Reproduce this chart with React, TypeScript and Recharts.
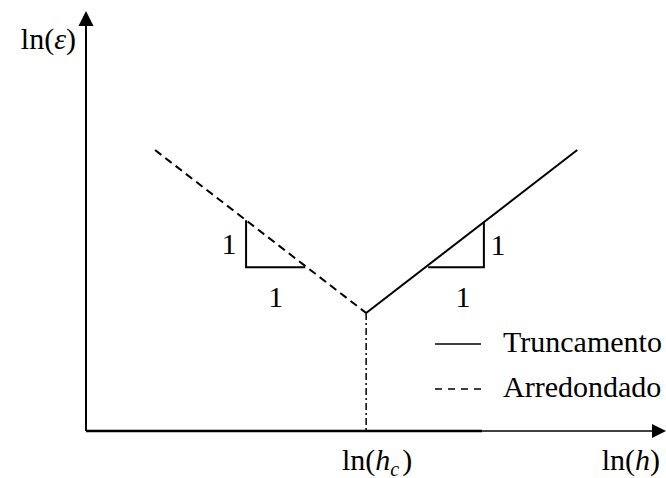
import React from 'react';
import {
  ComposedChart,
  Line,
  Scatter,
  XAxis,
  YAxis,
  Legend,
  ReferenceDot
} from 'recharts';

// schematic units: origin at the axes corner, both axes run 0..10
const truncamento = [ { x: 4.83, y: 2.81 }, { x: 8.47, y: 6.69 } ];
const arredondado = [ { x: 1.19, y: 6.69 }, { x: 4.83, y: 2.81 } ];
const hcMarker = [ { x: 4.83, y: 2.81 }, { x: 4.83, y: 0 } ];
const slopeLeft = [ { x: 2.76, y: 5.02 }, { x: 2.76, y: 3.9 }, { x: 3.78, y: 3.9 } ];
const slopeRight = [ { x: 5.9, y: 3.9 }, { x: 6.86, y: 3.9 }, { x: 6.86, y: 4.98 } ];
const yAxisLine = [ { x: 0, y: 0 }, { x: 0, y: 9.67 } ];
const xAxisLine = [ { x: 0, y: 0 }, { x: 6.83, y: 0 } ];
const xAxisTail = [ { x: 6.83, y: 0 }, { x: 9.78, y: 0 } ];
const yArrowTip = [ { x: 0, y: 10 } ];
const xArrowTip = [ { x: 10, y: 0 } ];

const legendOrder = ['Truncamento', 'Arredondado'];
const legendDash: Record<string, string | undefined> = { Arredondado: '7 6' };

const serif = '"Liberation Serif", "Times New Roman", Times, serif';
const textStyle: React.CSSProperties = { fontFamily: serif, fontSize: 30, fill: '#000' };

// text placed relative to a reference dot
const note = (dx: number, dy: number, anchor: 'start' | 'middle' | 'end', content: React.ReactNode) =>
  (props: any) => (
    <text
      x={props.cx + dx}
      y={props.cy + dy}
      textAnchor={anchor}
      fontFamily={serif}
      fontSize={30}
      fill="#000"
    >
      {content}
    </text>
  );

const upArrow = (props: any) => {
  const { cx, cy } = props;
  return <polygon points={`${cx},${cy} ${cx - 7.5},${cy + 15} ${cx + 7.5},${cy + 15}`} fill="#000" />;
};

const rightArrow = (props: any) => {
  const { cx, cy } = props;
  return <polygon points={`${cx},${cy} ${cx - 14},${cy - 7} ${cx - 14},${cy + 7}`} fill="#000" />;
};

const renderLegend = (props: any) => {
  const payload = props.payload || [];
  const items = legendOrder
    .map((name) => payload.find((p: any) => p.value === name))
    .filter(Boolean);
  return (
    <svg width={232} height={92} style={{ display: 'block', overflow: 'visible' }}>
      {items.map((entry: any, i: number) => (
        <g key={entry.value}>
          <line
            x1={0}
            x2={46}
            y1={24 + 45 * i}
            y2={24 + 45 * i}
            stroke="#000"
            strokeWidth={1.6}
            strokeDasharray={legendDash[entry.value]}
          />
          <text x={68} y={32 + 45 * i} style={textStyle}>{entry.value}</text>
        </g>
      ))}
    </svg>
  );
};

const App = () => {
  return (
    <div style={{ position: 'absolute', left: 0, top: 0, background: '#fff' }}>
      <ComposedChart
        width={666}
        height={478}
        margin={{ top: 11, right: 0, bottom: 47, left: 86 }}
      >
        <XAxis type="number" dataKey="x" domain={[0, 10]} hide />
        <YAxis type="number" dataKey="y" domain={[0, 10]} hide />

        <Line
          data={truncamento}
          dataKey="y"
          name="Truncamento"
          stroke="#000"
          strokeWidth={2}
          dot={false}
          activeDot={false}
          isAnimationActive={false}
        />
        <Line
          data={arredondado}
          dataKey="y"
          name="Arredondado"
          stroke="#000"
          strokeWidth={2}
          strokeDasharray="8 5"
          dot={false}
          activeDot={false}
          isAnimationActive={false}
        />
        <Line
          data={hcMarker}
          dataKey="y"
          name="hc"
          legendType="none"
          stroke="#000"
          strokeWidth={1.5}
          strokeDasharray="7 3 2 3"
          dot={false}
          activeDot={false}
          isAnimationActive={false}
        />
        <Line
          data={slopeLeft}
          dataKey="y"
          name="slopeLeft"
          legendType="none"
          stroke="#000"
          strokeWidth={2}
          dot={false}
          activeDot={false}
          isAnimationActive={false}
        />
        <Line
          data={slopeRight}
          dataKey="y"
          name="slopeRight"
          legendType="none"
          stroke="#000"
          strokeWidth={2}
          dot={false}
          activeDot={false}
          isAnimationActive={false}
        />
        <Line
          data={yAxisLine}
          dataKey="y"
          name="yAxis"
          legendType="none"
          stroke="#000"
          strokeWidth={2}
          dot={false}
          activeDot={false}
          isAnimationActive={false}
        />
        <Line
          data={xAxisLine}
          dataKey="y"
          name="xAxis"
          legendType="none"
          stroke="#000"
          strokeWidth={2.4}
          dot={false}
          activeDot={false}
          isAnimationActive={false}
        />
        <Line
          data={xAxisTail}
          dataKey="y"
          name="xAxisTail"
          legendType="none"
          stroke="#000"
          strokeWidth={1.3}
          dot={false}
          activeDot={false}
          isAnimationActive={false}
        />
        <Scatter data={yArrowTip} name="yArrow" legendType="none" shape={upArrow} isAnimationActive={false} />
        <Scatter data={xArrowTip} name="xArrow" legendType="none" shape={rightArrow} isAnimationActive={false} />

        {/* axis names */}
        <ReferenceDot
          x={0}
          y={10}
          r={0}
          ifOverflow="visible"
          shape={note(-10, 38, 'end', <>ln(<tspan fontStyle="italic">ε</tspan>)</>)}
        />
        <ReferenceDot
          x={4.83}
          y={0}
          r={0}
          ifOverflow="visible"
          shape={note(11, 39, 'middle', (
            <>
              ln(<tspan fontStyle="italic">h</tspan>
              <tspan fontStyle="italic" fontSize={20} dy={6}>c</tspan>
              <tspan dy={-6} dx={3}>)</tspan>
            </>
          ))}
        />
        <ReferenceDot
          x={10}
          y={0}
          r={0}
          ifOverflow="visible"
          shape={note(-6, 39, 'end', <>ln(<tspan fontStyle="italic">h</tspan>)</>)}
        />

        {/* slope triangle labels */}
        <ReferenceDot x={2.76} y={4.46} r={0} ifOverflow="visible" shape={note(-17, 10, 'middle', '1')} />
        <ReferenceDot x={3.27} y={3.9} r={0} ifOverflow="visible" shape={note(0, 40, 'middle', '1')} />
        <ReferenceDot x={6.86} y={4.44} r={0} ifOverflow="visible" shape={note(14, 10, 'middle', '1')} />
        <ReferenceDot x={6.38} y={3.9} r={0} ifOverflow="visible" shape={note(7, 40, 'middle', '1')} />

        <Legend
          layout="vertical"
          align="center"
          verticalAlign="middle"
          content={renderLegend}
          wrapperStyle={{ left: 435, top: 320, width: 232 }}
        />
      </ComposedChart>
    </div>
  );
};

export default App;
